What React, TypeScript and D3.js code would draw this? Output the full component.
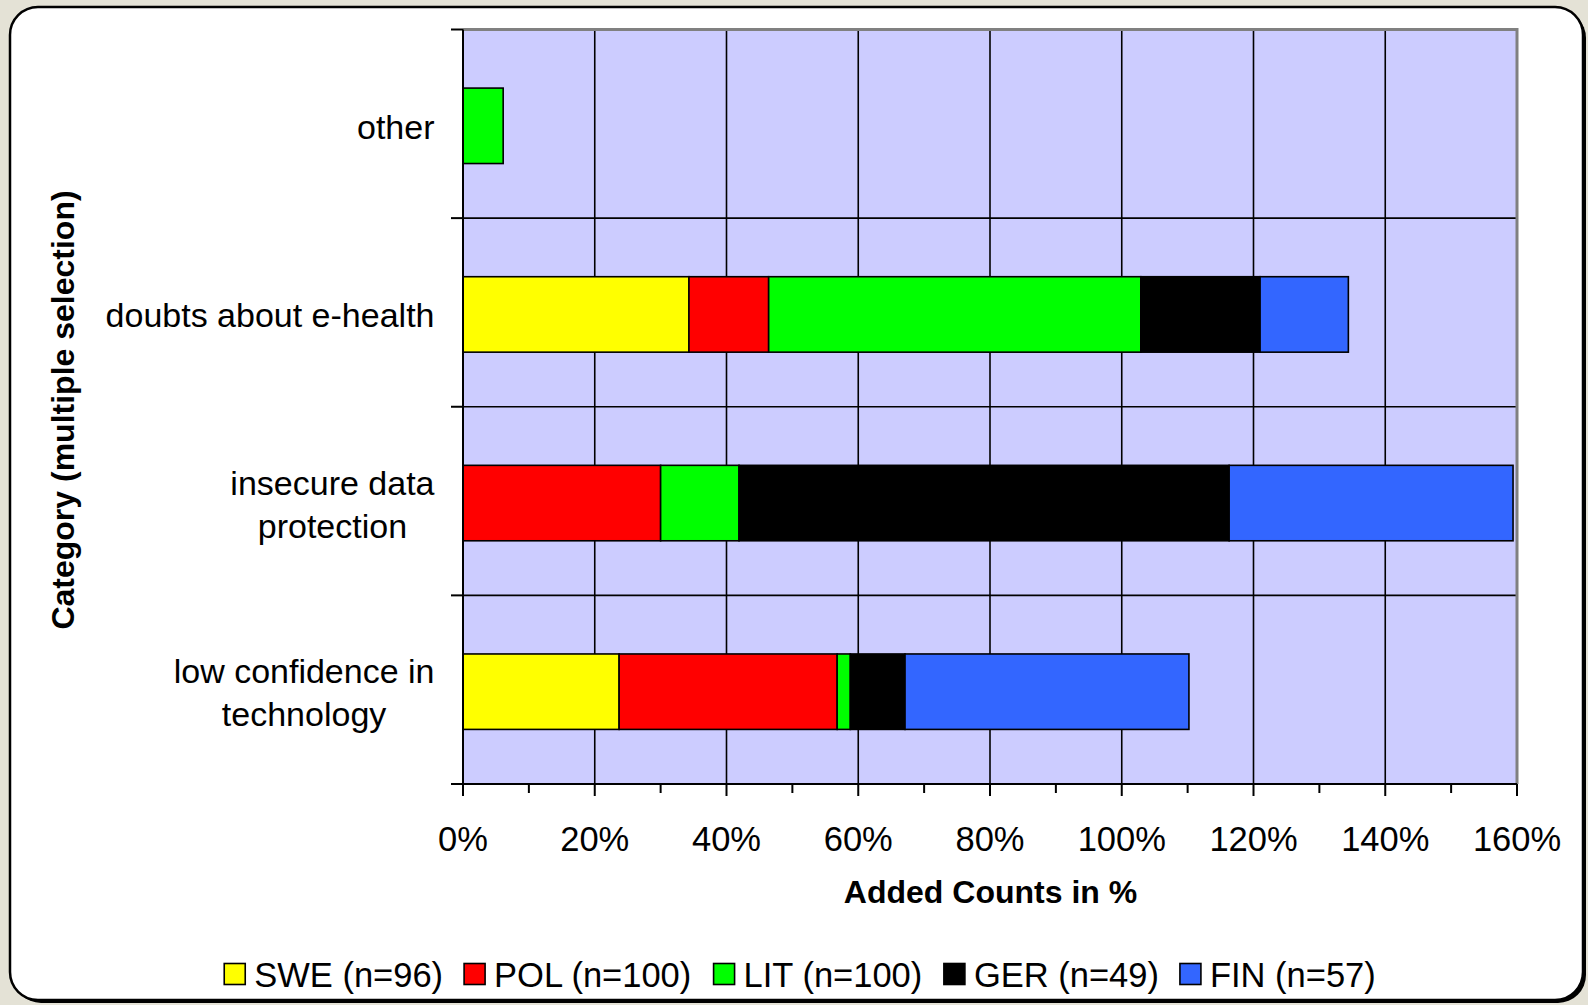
import React from "react";
import * as d3 from "d3";

const categories = ["other", "doubts about e-health", "insecure data protection", "low confidence in technology"];
const categoryLines = [["other"], ["doubts about e-health"], ["insecure data", "protection"], ["low confidence in", "technology"]];
const seriesNames = ["SWE (n=96)", "POL (n=100)", "LIT (n=100)", "GER (n=49)", "FIN (n=57)"];
const seriesColors = ["#ffff00", "#ff0000", "#00ff00", "#000000", "#3366ff"];
// values in %, order matches categories
const SWE = [0, 34.3, 0, 23.7];
const POL = [0, 12.1, 30.0, 33.1];
const LIT = [6.1, 56.5, 11.9, 2.0];
const GER = [0, 18.1, 74.4, 8.3];
const FIN = [0, 13.4, 43.1, 43.1];
const xTicks = [0, 20, 40, 60, 80, 100, 120, 140, 160];
const xMinorTicks = [10, 30, 50, 70, 90, 110, 130, 150];

const W = 1588, H = 1005;
const FONT = "'Liberation Sans', Arial, sans-serif";

function measure(text: string, font: string): number {
  const c = document.createElement("canvas");
  const ctx = c.getContext("2d")!;
  ctx.font = font;
  return ctx.measureText(text).width;
}

export default function App() {
  const left = 463, right = 1517, top = 29.5, bottom = 784;
  const x = d3.scaleLinear().domain([0, 160]).range([left, right]);
  const y = d3.scaleBand<string>().domain(categories).range([top, bottom]).paddingInner(0.6).paddingOuter(0.3);
  const step = y.step();
  const barShift = 2;

  const rows = categories.map((c, i) => ({ cat: c, SWE: SWE[i], POL: POL[i], LIT: LIT[i], GER: GER[i], FIN: FIN[i] }));
  const keys = ["SWE", "POL", "LIT", "GER", "FIN"];
  const stacked = d3.stack<any>().keys(keys)(rows);

  // legend layout
  const legSize = 34.5;
  const legFont = `${legSize}px ${FONT}`;
  const sq = 21, sqGap = 9, itemGap = 21;
  const widths = seriesNames.map((s) => measure(s, legFont));
  const total = widths.reduce((a, w) => a + sq + sqGap + w, 0) + itemGap * (seriesNames.length - 1);
  let lx = 800 - total / 2;
  const legendItems = seriesNames.map((s, i) => {
    const item = { x: lx, name: s, color: seriesColors[i] };
    lx += sq + sqGap + widths[i] + itemGap;
    return item;
  });
  const legY = 974;

  return (
    <svg width={W} height={H} style={{ position: "absolute", left: 0, top: 0 }} fontFamily={FONT}>
      <rect x={0} y={0} width={W} height={H} fill="#e4e2d6" />
      <rect x={13} y={10} width={1573} height={993} rx={28} fill="#000" />
      <rect x={10} y={7} width={1573} height={993} rx={28} fill="#fff" stroke="#000" strokeWidth={2.5} />

      {/* plot area */}
      <rect x={left} y={top} width={right - left} height={bottom - top} fill="#ccccff" />
      {xTicks.slice(1, -1).map((t) => (
        <line key={"vg" + t} x1={x(t)} x2={x(t)} y1={top} y2={bottom} stroke="#000" strokeWidth={1.6} />
      ))}
      {categories.slice(1).map((c) => (
        <line key={"hg" + c} x1={left} x2={right} y1={(y(c) as number) - step * 0.3} y2={(y(c) as number) - step * 0.3} stroke="#000" strokeWidth={1.6} />
      ))}
      <path d={`M${left},${top} H${right} V${bottom}`} fill="none" stroke="#808080" strokeWidth={3} />

      {/* bars */}
      {stacked.map((s, si) =>
        s.map((d: any, i: number) => {
          const w = x(d[1]) - x(d[0]);
          if (w <= 0) return null;
          return (
            <rect key={si + "-" + i} x={x(d[0])} y={(y(categories[i]) as number) + barShift} width={w} height={y.bandwidth()}
              fill={seriesColors[si]} stroke="#000" strokeWidth={1.6} />
          );
        })
      )}

      {/* y axis */}
      <line x1={left} x2={left} y1={top} y2={bottom} stroke="#000" strokeWidth={2} />
      {[...categories.map((c) => (y(c) as number) - step * 0.3), bottom].map((v, i) => (
        <line key={"yt" + i} x1={left - 12} x2={left} y1={v} y2={v} stroke="#000" strokeWidth={2} />
      ))}
      {/* x axis */}
      <line x1={left - 12} x2={right} y1={bottom} y2={bottom} stroke="#000" strokeWidth={2} />
      {xTicks.map((t) => (
        <line key={"xt" + t} x1={x(t)} x2={x(t)} y1={bottom} y2={bottom + 12} stroke="#000" strokeWidth={2} />
      ))}
      {xMinorTicks.map((t) => (
        <line key={"xm" + t} x1={x(t)} x2={x(t)} y1={bottom} y2={bottom + 9} stroke="#000" strokeWidth={2} />
      ))}
      {xTicks.map((t) => (
        <text key={"xl" + t} x={x(t)} y={851} fontSize={34.5} textAnchor="middle" fill="#000">{t + "%"}</text>
      ))}

      {/* category labels */}
      {categories.map((c, i) => {
        const lines = categoryLines[i];
        const cy = (y(c) as number) + y.bandwidth() / 2;
        const font = `34px ${FONT}`;
        const maxW = Math.max(...lines.map((l) => measure(l, font)));
        const cx = 434.5 - maxW / 2;
        const lh = 43;
        return lines.map((l, j) => (
          <text key={c + j} x={cx} y={cy + (j - (lines.length - 1) / 2) * lh + 15} fontSize={34} textAnchor="middle" fill="#000">{l}</text>
        ));
      })}

      {/* axis titles */}
      <text x={990.5} y={903} fontSize={32} fontWeight="bold" textAnchor="middle" fill="#000">Added Counts in %</text>
      <text transform="translate(74,410) rotate(-90)" fontSize={32} fontWeight="bold" textAnchor="middle" fill="#000">Category (multiple selection)</text>

      {/* legend */}
      {legendItems.map((it, i) => (
        <g key={"lg" + i}>
          <rect x={it.x} y={legY - sq / 2} width={sq} height={sq} fill={it.color} stroke="#000" strokeWidth={1.6} />
          <text x={it.x + sq + sqGap} y={legY + 12.5} fontSize={legSize} fill="#000">{it.name}</text>
        </g>
      ))}
    </svg>
  );
}
